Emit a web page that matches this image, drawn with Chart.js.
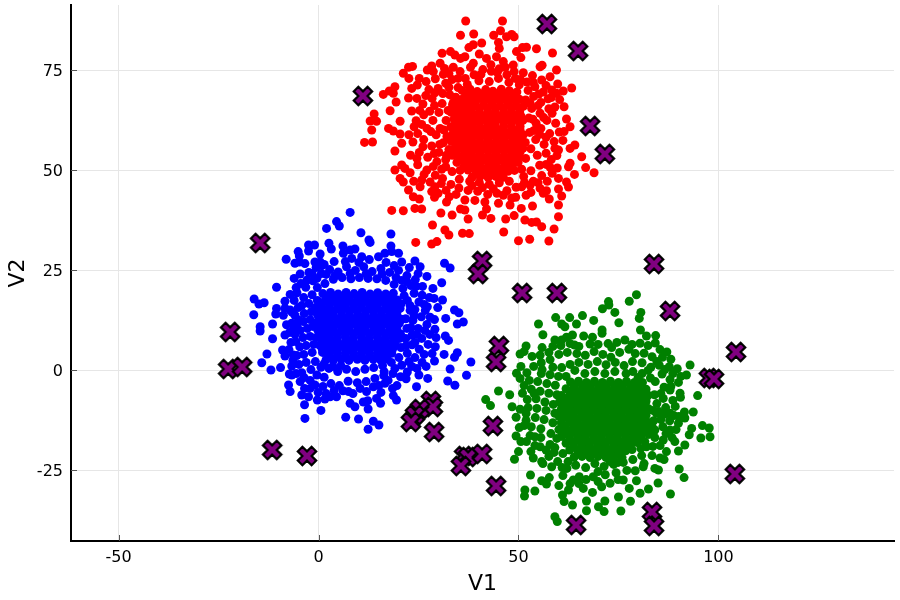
<!DOCTYPE html>
<html><head><meta charset="utf-8">
<script src="https://cdn.jsdelivr.net/npm/chart.js@4"></script>
<style>html,body{margin:0;padding:0;background:#fff}canvas{display:block}</style>
</head><body><canvas id="c" width="900" height="600"></canvas>
<script>
const xTicks=[-50,0,50,100];
const yTicks=[-25,0,25,50,75];
const xTitle="V1", yTitle="V2";
const redEdge=[[36.8,87.25],[46,87.25],[45.5,84.8],[35.5,83.7],[38.8,84],[43.8,83.7],[47,83.3],[48.3,83.9],[48.9,83.3],[40.8,81.75],[38.7,81.3],[37.6,80.6],[45,81.9],[45.2,80.4],[51,80.6],[52,80.7],[54.5,80.3],[58.5,79.25],[49.5,79.6],[50.6,78.1],[40.2,79],[30.9,79.2],[33,79.6],[34.1,78.75],[36.6,78.3],[35.5,77.9],[42,77.9],[44.5,78.3],[46.2,77.1],[48.7,76.25],[38.7,76.7],[38,75.7],[30.4,76.7],[28.3,76],[27.2,75],[23.5,75.9],[22.5,75.7],[21.2,74.2],[22.6,72.9],[33.7,75.7],[35.4,74.6],[55.4,75.8],[55.9,76.2],[59.5,75],[51.2,74.3],[53.5,73.6],[57.9,73.3],[55.8,72.5],[59.8,71.5],[63.3,70.5],[61.2,69.75],[59.5,69.2],[58.3,70],[19.1,70.8],[17.7,69.75],[16.2,68.9],[18.7,69.2],[19.4,67],[23.3,70.4],[24.7,71.25],[22.5,68],[59.1,65.75],[61.4,65.8],[62,62.75],[62.9,60.8],[61.4,59.6],[13.9,64],[12.9,62.25],[14.5,62.2],[13.3,60],[11.5,56.9],[13.5,57],[17.9,64.8],[20.4,62.2],[17.5,60.4],[18.7,59.75],[20.4,59],[19.1,54.75],[20.8,56.7],[23.3,64.75],[64.1,56.25],[62.9,55.4],[65.8,53.3],[66.8,50.6],[68.9,49.3],[64,48.9],[62.9,51.7],[62.5,50.8],[60,55],[59.6,53.6],[57.9,50.7],[59.7,50.5],[60,47.9],[62,47],[62.5,45.75],[60,45.25],[60.8,43.5],[57.7,42.75],[60,41.25],[60,38.3],[58.9,35.25],[57.6,32.25],[55.8,35.8],[54.5,37],[53.3,36.9],[51.6,37.5],[53.5,41],[50.7,40.4],[48.9,38.6],[46.8,37.75],[43.1,37.9],[41,38.75],[42,40.25],[37.4,37.75],[33.4,38.75],[30.6,39.25],[36.6,40],[35.5,40.25],[25.8,40.25],[24.1,40.4],[21.2,39.8],[18.3,39.9],[28.5,36.25],[31.6,35],[32.6,33.75],[36,34.2],[37.7,34.1],[46.3,34.5],[50,32.3],[52.8,32.7],[24.3,31.9],[28.3,31.5],[29.6,32.1],[19.1,50],[20.8,51.25],[21.6,50.4],[20.4,47.9],[21.2,47],[22.5,45],[23.7,43.3],[25.2,42.75],[25.4,45.8],[25.8,47.5],[27.9,47],[29.1,45.8],[28.3,44.6],[29,43.2],[32.7,43.3],[32,42],[36.6,42.5],[39.1,42.4],[41.6,42],[45,41.7],[47.9,41.25],[48.3,43],[50.8,45.8],[55.4,45.4],[57,44.8],[56.2,44.2]];
const redMid=[[24.4,62.3],[26.1,66.5],[27.6,70.1],[29.2,72.8],[31.2,73.9],[24.8,59.1],[26.3,63.8],[28.4,67.9],[29.9,70.4],[31.8,71.7],[33.4,72.6],[36.7,72.9],[38.9,73.8],[41.1,75.1],[43.2,74.7],[45.2,75.3],[47.1,73.8],[49.2,72.9],[52.1,72],[54.1,70.8],[56.2,69.5],[57.4,67.8],[55.6,66.9],[53.8,68.4],[58.4,64.2],[57.1,62.4],[59.3,61.7],[60.2,59.5],[57.8,59.1],[55.6,60.4],[58.9,57.1],[56.4,56.4],[54.3,57.6],[56.9,54.2],[54.7,53.7],[58.2,52.6],[55.3,51.2],[53.1,49.8],[55.8,48.6],[53.7,47.2],[51.5,46.9],[49.4,45.7],[47.1,44.8],[44.6,44.2],[42.3,43.9],[39.8,44.7],[37.4,44.9],[35.1,45.5],[33.1,46.4],[31,47.9],[29.2,48.7],[27.1,50],[24.8,51.3],[23,53.7],[25.2,54.4],[27.3,53.2],[29.6,52.1],[30.8,50.2],[23.6,57],[26.3,57.6],[28.3,56],[30.1,54.4],[31.8,52.6],[27.1,60.4],[29.4,58.8],[31.2,56.8],[28.6,62.4],[30.4,60.4],[32.1,58.4],[30.1,64.4],[31.9,62.4],[30.9,66.6],[32.4,64.9],[32.8,68.8],[33.7,66.9],[34.9,70.6],[37.2,71.4],[40.1,72.3],[42.7,72.1],[45,72.9],[47.6,71.9],[50.2,71.3],[52.4,69.9],[51.8,67.5],[53.3,65.4],[55.4,64.2],[52.6,63],[54.4,61.7],[52.8,59.4],[51.7,56.9],[53.1,55.3],[51.8,52.9],[50.8,50.2],[51.3,48.4],[47.7,47.2],[45.2,46.8],[42.7,46.4],[40.2,46.9],[37.8,47.2],[35.2,47.7],[33.4,49.6],[31.8,50.8]];
const redCore=[[35.9,69.9],[37.9,70.2],[39.7,69.6],[41.8,70.1],[43.6,69.7],[45.7,70.2],[47.7,69.8],[49.6,69.5],[34.3,68.2],[36.2,67.9],[38.3,68.4],[40.4,68.1],[42.4,68.3],[44.4,67.9],[46.4,68.2],[48.6,68.1],[50.2,67.7],[33.5,66.3],[35.3,66.5],[37.1,66.1],[39.2,66.6],[41.3,66.2],[43.3,66.4],[45.3,66.1],[47.3,66.5],[49.3,66.1],[51.2,65.9],[33.2,64.4],[34.9,64.8],[36.3,64.3],[38.2,64.7],[40.2,64.4],[42.3,64.7],[44.2,64.3],[46.3,64.6],[48.3,64.3],[50.3,64.5],[33.9,62.7],[35.6,62.5],[37.4,62.9],[39.3,62.6],[41.3,62.8],[43.2,62.5],[45.2,62.9],[47.3,62.6],[49.4,62.8],[51.1,62.4],[33.1,60.8],[34.8,60.9],[36.5,60.7],[38.4,61],[40.4,60.7],[42.4,61],[44.3,60.7],[46.3,61],[48.3,60.7],[50.4,60.9],[33.6,59.1],[35.5,58.9],[37.3,59.2],[39.3,58.9],[41.4,59.2],[43.4,58.9],[45.3,59.2],[47.3,58.9],[49.4,59.2],[51.2,58.8],[33.2,57.2],[34.7,57.4],[36.4,57.1],[38.3,57.4],[40.3,57.1],[42.4,57.4],[44.4,57.1],[46.4,57.4],[48.4,57.1],[50.2,57.3],[34,55.4],[35.7,55.6],[37.4,55.2],[39.3,55.6],[41.3,55.3],[43.3,55.6],[45.3,55.3],[47.3,55.6],[49.3,55.3],[51.1,55.4],[33.4,53.7],[35.1,53.4],[36.5,53.8],[38.4,53.5],[40.4,53.8],[42.4,53.5],[44.4,53.8],[46.4,53.5],[48.4,53.8],[50.1,53.4],[34.6,51.9],[36.6,51.6],[38.5,51.9],[40.3,51.6],[42.4,51.9],[44.3,51.6],[46.4,51.9],[48.3,51.6],[49.9,51.9],[35.4,49.9],[37.4,50],[39.4,49.7],[41.4,50],[43.4,49.7],[45.4,50],[47.4,49.7],[49,49.9],[38.4,48.2],[40.4,48.4],[42.4,48.1],[44.3,48.4],[46.2,48.2]];
const redExtra=[[25.2,72.9],[26.9,72.1],[28.7,74.6],[31.5,75.4],[32.6,74.1],[34.9,72.9],[40.6,73.9],[43.1,76.3],[44.7,74.4],[46.7,75.7],[48.9,74.6],[50.5,72.6],[53.7,71.9],[55.1,69],[56.9,71.1],[58.2,68.1],[60.3,67.6],[26.8,68.6],[24.6,67.9],[25.3,64.9],[23.9,60.8],[22.6,58.8],[25.8,61.4],[27.8,64.7],[29,66.1],[28.1,59.6],[26.1,55.8],[24.6,52.9],[22.9,49.3],[23.8,47.2],[26.4,48.9],[28.7,50.9],[30.7,46.6],[29.9,44.2],[31.9,44.9],[34.4,43.9],[38.4,46.1],[41,45.6],[43.7,45.3],[46.2,43.7],[49.3,43.2],[51.9,43.7],[53.1,44.4],[52.9,46.2],[54.9,46.8],[57.2,47.2],[58.4,49.2],[56.9,51.4],[59.1,55.4],[61.1,57.4],[56.9,58.2],[55.3,58.9],[53.9,59.9],[53.6,62.7],[56.3,63.1],[57.6,65.3],[54.9,66.1],[52.9,66.7],[31.1,69.1],[32.6,70.7],[29.1,69.3],[31.4,60],[30.3,56.4],[32.6,55.1],[32,53.7],[28.9,54.1]];
const redFill=[[36.9,69],[38.9,69.2],[40.9,69],[42.9,69.2],[44.9,69],[46.9,69.1],[48.9,69],[35.3,67.2],[37.3,67.3],[39.3,67.2],[41.4,67.3],[43.4,67.2],[45.4,67.3],[47.4,67.2],[49.4,67.2],[34.3,65.4],[36.3,65.4],[38.2,65.5],[40.2,65.4],[42.3,65.5],[44.3,65.4],[46.3,65.5],[48.3,65.4],[50.3,65.4],[34.8,63.6],[36.7,63.6],[38.7,63.7],[40.7,63.6],[42.7,63.7],[44.7,63.6],[46.8,63.7],[48.8,63.6],[50.6,63.5],[34.5,61.8],[36.4,61.8],[38.4,61.9],[40.3,61.8],[42.3,61.9],[44.2,61.8],[46.3,61.9],[48.3,61.8],[50.3,61.8],[34.6,60],[36.4,60],[38.4,60],[40.4,60],[42.4,60],[44.4,60],[46.3,60],[48.4,60],[50.4,60],[34.5,58.1],[36.4,58.1],[38.3,58.2],[40.4,58.1],[42.4,58.2],[44.4,58.1],[46.3,58.2],[48.4,58.1],[50.3,58.1],[35,56.4],[36.9,56.3],[38.8,56.4],[40.8,56.3],[42.8,56.4],[44.8,56.3],[46.8,56.4],[48.8,56.3],[50.6,56.3],[34.5,54.6],[36.5,54.6],[38.4,54.6],[40.4,54.6],[42.4,54.6],[44.4,54.6],[46.4,54.6],[48.4,54.6],[50.4,54.5],[35.6,52.7],[37.6,52.7],[39.4,52.7],[41.4,52.7],[43.4,52.7],[45.4,52.7],[47.4,52.7],[49.2,52.7],[36.4,50.8],[38.4,50.8],[40.4,50.8],[42.4,50.8],[44.4,50.8],[46.4,50.8],[48.4,50.8],[39.4,49],[41.4,49],[43.4,49],[45.4,49]];
const blueEdge=[[7.9,39.4],[2,35.4],[4.5,37.1],[5.2,36],[10.6,34.3],[18.1,34],[12.6,32.5],[12.9,31.9],[-2.5,31.25],[-1,31.25],[2.6,31.7],[3.2,30.25],[6.1,31],[18.1,31],[-2.5,29.75],[-5.1,29.6],[-4.8,28.5],[.4,29],[-8.1,27.7],[-5.9,26.7],[-3.4,26.6],[-4.8,27],[-.9,27],[.4,27],[6.2,29.2],[7.9,30],[9.1,30.25],[8.3,27.9],[10.8,28.3],[20,29.2],[18.3,29.6],[16.6,29.2],[15,28.3],[20.8,27],[24.1,27.25],[25.4,25.8],[31.5,26.7],[32.9,25.5],[30.8,21.8],[31,17.5],[34,15],[35.1,14.3],[29.8,15.6],[27.2,15.8],[31.8,12.9],[36.2,12],[34.7,11.5],[29.1,10.2],[31.7,8.5],[32.5,7.4],[29.2,5.8],[34.7,4.3],[34,3.2],[31.4,3.9],[29,2.25],[38.1,2],[32.9,.25],[37,-1.3],[27.3,-2.1],[25.1,-1.25],[32.3,-2.75],[34.1,-3.8],[24.5,-4.2],[22.2,-.5],[20.5,-1.7],[-10.5,20.7],[-5.4,19.3],[-2.9,22.5],[-4.6,24],[-6.1,22.9],[-16.1,17.75],[-14.9,16.5],[-13.6,16.8],[-8.4,17.2],[-10.5,15.4],[-10.7,14],[-16.2,13.8],[-8.4,15.4],[-7.1,15],[-5.9,13.7],[-5,12.5],[-8.8,13.7],[-6.7,11.7],[-8,11.3],[-6.3,10],[-8.4,8.75],[-11.5,11.5],[-14.6,10.8],[-14.6,9.75],[-11.5,7.8],[-12.9,4],[-14.2,1.8],[-11.9,0],[-9.5,.6],[-9,5],[-8.4,3.5],[-6.3,3.75],[-6.7,1],[-7.3,-1],[-6.7,-1.25],[-7.5,-3.75],[-7.1,-5.4],[-4.2,-6.25],[-3.5,-4.6],[-3.5,-8.7],[-2.5,-6.7],[-.3,-7.5],[1.6,-7.25],[.6,-10.1],[-3.4,-12.1],[6.8,-11.8],[10,-12.25],[13.7,-12.8],[15.1,-13.75],[12.4,-14.8],[7.9,-8.3],[9.1,-9.2],[12.4,-9.75],[11.2,-8],[12.3,-7.7],[14.5,-7.1],[15.5,-8.3],[15.6,-5.6],[18.7,-6.4],[19.5,-7.5],[18.5,-4.6],[16.6,-3.3],[13.7,-4.2],[12,-5.4],[7.5,-5.4],[4.5,-6.7],[2.9,-6.7],[-.9,-3.75],[-.4,-1.25]];
const blueMid=[[-3.2,20.7],[-1.4,22.3],[.7,24.1],[2.8,25.1],[4.9,24.5],[7,25.8],[9.2,24.9],[11.3,25.8],[13.4,24.6],[15.6,25.4],[17.8,24.4],[20,24.9],[22.1,23.6],[24.2,22.6],[26,20.9],[23.1,21.1],[20.8,22.4],[25.9,18.7],[27.7,18.1],[23.9,19.2],[26.4,16.4],[24.1,15.1],[27.9,13.2],[25.7,13.3],[23.6,12.4],[27.1,11.4],[24.9,10.4],[27.8,8.9],[25.8,7.9],[23.4,8.7],[27.4,6.4],[25.2,5.2],[23.4,6.3],[26.4,3.9],[24.1,3.1],[22.2,4.2],[25.9,1.9],[23.3,.9],[20.8,1.2],[18.6,-.9],[16.3,-1.4],[14.1,-2.1],[11.9,-2.9],[9.7,-3.2],[7.4,-2.8],[5.2,-3.9],[3.1,-3.4],[1.1,-4.1],[-2.1,-2.6],[1.4,-1.8],[-4.2,-.7],[-1.9,.1],[-4.9,1.4],[-3.1,1.9],[-.8,2.1],[-5.4,3.6],[-3.7,3.9],[-1.6,4.4],[-4.7,5.8],[-3.1,6.1],[-1.2,6.4],[-5.7,7.1],[-3.9,8.1],[-2.1,8.4],[-4.6,9.9],[-2.8,10.4],[-1.4,10.9],[-3.8,12.1],[-2.1,12.6],[-3.6,14.1],[-1.8,14.6],[-4.2,16.1],[-2.4,16.6],[-3.7,18.1],[-1.6,18.8],[-.3,20.6],[1.6,21.6],[3.7,22.7],[5.9,23.1],[8.1,22.8],[10.2,23.1],[12.4,22.9],[14.6,22.8],[16.8,22.4],[18.9,21.4],[21.1,20.4],[22.2,17.4],[22.9,14.9],[21.8,12.8],[22.1,10.4],[21.8,7.9],[20.6,5.6],[20.1,3.1],[18.2,1.9],[16,1.1],[13.8,.6],[11.6,.2],[9.3,-.4],[7,.2],[4.8,-.4],[2.6,.4],[.6,.7]];
const blueCore=[[1.1,19.1],[3,19.4],[4.9,19],[6.9,19.4],[8.9,19.1],[10.9,19.4],[12.9,19],[14.8,19.3],[16.8,19],[18.7,19.2],[-.3,17.4],[1.6,17.3],[3.7,17.6],[5.6,17.2],[7.7,17.5],[9.6,17.2],[11.6,17.6],[13.6,17.2],[15.7,17.5],[17.6,17.2],[19.7,17.5],[-.7,15.6],[.9,15.4],[2.7,15.7],[4.7,15.4],[6.6,15.7],[8.6,15.4],[10.7,15.7],[12.7,15.4],[14.6,15.7],[16.7,15.4],[18.6,15.7],[20.4,15.4],[-.2,13.7],[1.7,13.5],[3.6,13.8],[5.7,13.5],[7.7,13.8],[9.7,13.5],[11.6,13.8],[13.7,13.5],[15.7,13.8],[17.6,13.5],[19.6,13.8],[-.6,11.8],[1,11.7],[2.7,12],[4.6,11.7],[6.7,12],[8.6,11.7],[10.7,12],[12.6,11.7],[14.7,12],[16.6,11.7],[18.7,12],[20.2,11.7],[-.2,10],[1.8,9.8],[3.7,10.1],[5.7,9.8],[7.6,10.1],[9.7,9.8],[11.6,10.1],[13.7,9.8],[15.6,10.1],[17.7,9.8],[19.6,10.1],[-.5,8.1],[1,7.9],[2.7,8.2],[4.6,7.9],[6.7,8.2],[8.6,7.9],[10.7,8.2],[12.6,7.9],[14.7,8.2],[16.6,7.9],[18.6,8.2],[20.3,7.9],[.3,6.2],[1.9,6],[3.7,6.3],[5.7,6],[7.6,6.3],[9.7,6],[11.6,6.3],[13.7,6],[15.6,6.3],[17.7,6],[19.2,6.3],[1,4.4],[2.7,4.2],[4.6,4.5],[6.7,4.2],[8.6,4.5],[10.7,4.2],[12.6,4.5],[14.7,4.2],[16.6,4.5],[18.3,4.2],[1.9,2.6],[3.7,2.4],[5.7,2.7],[7.6,2.4],[9.7,2.7],[11.6,2.4],[13.7,2.7],[15.6,2.4],[17.2,2.7]];
const blueExtra=[[.9,26.1],[3.9,27.1],[6.7,27.1],[10.1,26.9],[12.7,27.6],[16.9,26.9],[18.9,26.1],[22.7,25.6],[24.9,24.1],[27.1,23.4],[28.6,20.4],[28.9,17.9],[25.1,17],[26.7,14.9],[29,12.6],[26.6,9.9],[29.4,8.1],[24.1,6.9],[28.4,4.1],[26.9,.9],[24.6,.4],[21.9,-2.2],[19.6,-3.9],[17.4,-2.6],[15.1,-3.9],[10.4,-4.6],[8.6,-5.9],[6.1,-5.2],[3.9,-5.1],[1.9,-5.9],[-.1,-5.6],[-2.1,-4.6],[-4.6,-2.9],[-5.6,-.9],[-3.6,-1.9],[-6.4,2.4],[-7.4,5.1],[-6.9,6.9],[-5.9,8.9],[-7.2,9.4],[-5.4,11.1],[-6.6,14.4],[-5.1,15.6],[-6.1,17.4],[-7.1,18.9],[-5.6,20.6],[-4.4,21.6],[-2.4,24.4],[-.6,25.6],[1.4,26.4],[-1.6,24.1],[-.4,22.9],[1.9,23.9],[4.1,23.6],[7.9,24.1],[11.9,24.1],[15.9,24],[19.4,23.1],[22.1,22.1],[24.4,20.9],[21.4,18.6],[22.9,16.1],[23.9,13.6],[23.1,10.6],[24.6,8.9],[21.9,6.1],[22.6,2.1],[19.1,.4],[16.4,-.4],[5.6,1.1],[3.6,.9],[1.4,1.6]];
const blueFill=[[2,18.3],[4,18.4],[5.9,18.3],[7.9,18.4],[9.9,18.3],[11.9,18.4],[13.9,18.3],[15.9,18.3],[17.9,18.3],[.7,16.5],[2.7,16.5],[4.7,16.4],[6.7,16.5],[8.7,16.4],[10.7,16.5],[12.7,16.4],[14.7,16.5],[16.7,16.4],[18.7,16.4],[20.6,16.5],[.1,14.6],[1.9,14.6],[3.8,14.7],[5.7,14.6],[7.7,14.7],[9.7,14.6],[11.8,14.7],[13.7,14.6],[15.7,14.7],[17.7,14.6],[19.6,14.6],[.7,12.7],[2.7,12.7],[4.7,12.7],[6.7,12.7],[8.7,12.7],[10.7,12.7],[12.7,12.7],[14.7,12.7],[16.7,12.7],[18.7,12.7],[20.7,12.7],[.2,10.9],[1.9,10.9],[3.8,10.9],[5.7,10.9],[7.7,10.9],[9.7,10.9],[11.7,10.9],[13.7,10.9],[15.7,10.9],[17.7,10.9],[19.6,10.9],[.8,9],[2.8,9],[4.7,9],[6.7,9],[8.7,9],[10.7,9],[12.7,9],[14.7,9],[16.7,9],[18.7,9],[20.5,9],[1,7.1],[2.9,7.1],[4.7,7.1],[6.7,7.1],[8.6,7.1],[10.7,7.1],[12.7,7.1],[14.7,7.1],[16.6,7.1],[18.6,7.1],[.9,5.3],[2.8,5.2],[4.7,5.3],[6.7,5.2],[8.7,5.3],[10.7,5.2],[12.7,5.3],[14.7,5.2],[16.7,5.3],[18.5,5.2],[2.8,3.4],[4.7,3.4],[6.7,3.4],[8.7,3.4],[10.7,3.4],[12.7,3.4],[14.7,3.4],[16.6,3.4]];
const greenEdge=[[79.5,18.8],[77.7,17.2],[72.5,17.1],[72.6,16.25],[71,15.3],[74.1,14.4],[80.6,14.4],[80.2,12.9],[75.1,11.8],[66,13.6],[62.8,13.1],[59.3,13.1],[68.8,12.4],[64.5,11.5],[55,11.5],[60.8,11.5],[61.6,10.8],[70.9,10],[70.9,9.2],[80.5,10],[82,8.5],[84.3,8.6],[84.2,6.75],[56.1,8.8],[63.5,8.75],[66.3,8.5],[68.5,8.2],[59.1,7.5],[60.8,7.5],[62,8.2],[76.6,7.5],[80.4,6.7],[73.3,5.6],[64,6.25],[67.9,6.5],[51.9,6],[51.4,4.6],[50.4,4],[57.6,4.4],[55.4,3.7],[87.1,4.5],[86,3.2],[88.1,2.7],[87.7,.8],[89.7,.3],[92.9,1.25],[92,-1.25],[94.8,-6.4],[90.4,-5.8],[90.5,-6.8],[87.9,-5],[93.7,-10.5],[91.5,-10.5],[91.6,-12],[96,-13.9],[97.7,-14.5],[97.9,-16.7],[95.6,-17],[93.3,-14.6],[92.7,-16.2],[91.6,-18.75],[90,-20.25],[89.1,-17.9],[90.2,-24.75],[91.4,-26.9],[88,-31],[84.9,-28.25],[82.5,-29.75],[80.4,-30.8],[79.5,-27.7],[77.7,-29.6],[78,-32.8],[75,-31.75],[75.6,-35.25],[71.6,-32.75],[70,-34.2],[71.4,-35.4],[67,-32.75],[67,-35.2],[63.5,-33.75],[61.4,-32.9],[61,-31.25],[59.1,-36.7],[59.7,-37.9],[51.6,-30],[51.5,-31.5],[54.1,-30.25],[53,-26.25],[55.8,-27.7],[57.7,-26.9],[57,-28.5],[49,-22.3],[50,-20.4],[49.4,-16.5],[50.6,-17.9],[50.2,-14.4],[49.4,-11.8],[48.4,-9.2],[50.4,-9.8],[41.8,-7.4],[43,-8.9],[45,-5.25],[47.8,-6.2],[51,-5.8],[49.5,-.8],[50.4,-2.1],[55.8,-22.9],[58.3,-24.2],[53.7,-22],[52,-17.9],[54.1,-16.7],[56.9,-20],[62.5,-30],[66.2,-29.6],[68.5,-30.6],[70.8,-29.2],[63.7,-27.5],[68.7,-26.7],[76.2,-27.5],[72.9,-28.3],[85,-25],[84.1,-24.6],[81.2,-24.2],[85.4,-22],[82,-19.2],[87,-20.4],[86.2,-17.5],[84.1,-15],[87.9,-15],[90,-13.3],[87.9,-10.8],[84.5,-10.8]];
const greenMid=[[52.1,-.7],[53.8,.9],[55.7,1.8],[57.9,2.6],[60.1,3.9],[62.2,4.4],[64.6,4.1],[66.7,3.7],[68.9,4.6],[71.1,3.9],[73.1,3.2],[75.3,4.4],[77.6,5.2],[79.2,4.1],[81.4,4.2],[83.4,3.3],[85.2,1.2],[83.1,.7],[80.9,1.8],[78.5,2.1],[85.9,-1],[87.9,-2.4],[90,-3.1],[84.2,-2.9],[86.4,-4.3],[88.6,-7.6],[86.2,-7.1],[84,-6.2],[89.2,-9.1],[86.8,-9.4],[84.6,-8.4],[90.1,-11.6],[87.8,-12.7],[85.6,-12.4],[83.8,-12.7],[86.1,-14.2],[84.1,-16.9],[83.6,-19.1],[80.8,-21.4],[78.6,-22.4],[76.2,-23.1],[73.8,-23.6],[71.4,-24.1],[69.1,-23.4],[66.8,-24.4],[64.3,-23.8],[62.1,-24.6],[59.8,-22.9],[61.1,-26.4],[65.2,-26.7],[71.7,-26.2],[74.4,-25.7],[79.2,-25.2],[57.6,-21.6],[55.4,-19.2],[57.9,-18.6],[53.2,-14.2],[55.6,-14.7],[58.1,-15.9],[51.9,-12.6],[54.2,-11.9],[56.4,-12.4],[58.6,-13.2],[52.4,-9.4],[54.6,-9.6],[56.9,-10.1],[59.1,-10.8],[52.2,-7.4],[54.4,-7.2],[56.6,-8],[58.7,-8.6],[53.2,-4.8],[55.4,-5.3],[57.6,-5.8],[59.6,-6.2],[52.7,-2.6],[54.8,-2.9],[57.1,-3.4],[59.2,-3.8],[55.7,-.9],[57.9,-1.2],[60,-1.6],[58.6,.7],[60.8,.6],[62.9,1.4],[65.1,1.9],[67.4,1.4],[69.7,2.1],[71.9,1.3],[74.2,1.9],[76.4,1.1],[78.6,-.4],[80.9,-.9],[83,-2]];
const greenCore=[[63,-3],[65,-2.8],[67,-3.1],[69,-2.8],[71,-3.1],[73,-2.8],[75,-3.1],[77,-2.8],[79,-3.1],[81,-3.1],[61.9,-4.7],[63.9,-4.5],[65.9,-4.8],[67.9,-4.5],[69.9,-4.8],[71.9,-4.5],[73.9,-4.8],[75.9,-4.5],[77.9,-4.8],[79.9,-4.5],[81.9,-4.8],[60.8,-6.4],[62.9,-6.2],[64.9,-6.5],[66.9,-6.2],[68.9,-6.5],[70.9,-6.2],[72.9,-6.5],[74.9,-6.2],[76.9,-6.5],[78.9,-6.2],[80.9,-6.5],[82.4,-6.3],[60.2,-8.1],[61.9,-7.9],[63.9,-8.2],[65.9,-7.9],[67.9,-8.2],[69.9,-7.9],[71.9,-8.2],[73.9,-7.9],[75.9,-8.2],[77.9,-7.9],[79.9,-8.2],[81.9,-7.9],[60.7,-9.8],[62.8,-9.6],[64.8,-9.9],[66.8,-9.6],[68.8,-9.9],[70.8,-9.6],[72.8,-9.9],[74.8,-9.6],[76.8,-9.9],[78.8,-9.6],[80.8,-9.9],[82.4,-9.6],[60.1,-11.5],[61.9,-11.3],[63.9,-11.6],[65.9,-11.3],[67.9,-11.6],[69.9,-11.3],[71.9,-11.6],[73.9,-11.3],[75.9,-11.6],[77.9,-11.3],[79.9,-11.6],[81.9,-11.3],[60.7,-13.2],[62.8,-13],[64.8,-13.3],[66.8,-13],[68.8,-13.3],[70.8,-13],[72.8,-13.3],[74.8,-13],[76.8,-13.3],[78.8,-13],[80.8,-13.3],[82.2,-13],[60.1,-14.9],[61.9,-14.7],[63.9,-15],[65.9,-14.7],[67.9,-15],[69.9,-14.7],[71.9,-15],[73.9,-14.7],[75.9,-15],[77.9,-14.7],[79.9,-15],[81.6,-14.7],[60.9,-16.6],[62.8,-16.4],[64.8,-16.7],[66.8,-16.4],[68.8,-16.7],[70.8,-16.4],[72.8,-16.7],[74.8,-16.4],[76.8,-16.7],[78.8,-16.4],[80.6,-16.7],[61.9,-18.3],[63.9,-18.1],[65.9,-18.4],[67.9,-18.1],[69.9,-18.4],[71.9,-18.1],[73.9,-18.4],[75.9,-18.1],[77.9,-18.4],[79.6,-18.1],[62.8,-20],[64.8,-20.2],[66.8,-19.9],[68.8,-20.2],[70.8,-19.9],[72.8,-20.2],[74.8,-19.9],[76.8,-20.2],[78.4,-19.9],[63.9,-21.8],[65.9,-21.6],[67.9,-21.9],[69.9,-21.6],[71.9,-21.9],[73.9,-21.6],[75.9,-21.9]];
const greenExtra=[[53.4,3.4],[55.9,5.6],[58.6,5.9],[60.6,6.1],[62.9,6.6],[65.1,5.9],[69.9,6.4],[72.4,6.6],[74.6,6.9],[78.4,6.4],[82.4,6.1],[85.4,5.1],[84.6,2.1],[86.6,.1],[88.6,-.9],[90.6,-1.6],[82.4,-.1],[79.9,-1.9],[76.9,-.9],[74.1,-.4],[71.6,-.9],[69.1,-.4],[66.6,-.9],[64.1,-.1],[61.9,-1.6],[85.6,-5.9],[88.1,-4.1],[85.1,-10.4],[83.6,-10.1],[86.4,-11.1],[88.9,-11.4],[89.4,-14.9],[88.4,-16.9],[86.9,-15.9],[85.4,-18.9],[86.4,-22.4],[83.4,-21.4],[81.4,-23.4],[77.1,-25.1],[74.9,-27.4],[69.9,-27.9],[66.9,-27.4],[65.1,-28.4],[62.9,-28.4],[60.1,-28.9],[60.9,-24.4],[58.9,-20.6],[56.1,-23.4],[54.1,-18.9],[53.1,-20.4],[55.6,-16.9],[52.9,-16.4],[51.4,-13.9],[51.9,-10.9],[53.9,-5.9],[51.4,-3.9],[50.6,.9],[55.9,.1],[59.1,-19.4],[59.6,-17.1],[61.1,-20.9],[62.4,-22.9],[80.6,-19.6],[81.6,-17.9],[83.1,-15.1],[83.4,-14.1],[82.6,-16.1],[72.9,-22.9],[74.9,-23.1],[69.9,-25.4]];
const greenFill=[[64,-3.8],[66,-3.9],[68,-3.8],[70,-3.9],[72,-3.8],[74,-3.9],[76,-3.8],[78,-3.9],[80,-3.8],[62.9,-5.5],[64.9,-5.6],[66.9,-5.5],[68.9,-5.6],[70.9,-5.5],[72.9,-5.6],[74.9,-5.5],[76.9,-5.6],[78.9,-5.5],[80.9,-5.6],[61.9,-7.2],[63.9,-7.3],[65.9,-7.2],[67.9,-7.3],[69.9,-7.2],[71.9,-7.3],[73.9,-7.2],[75.9,-7.3],[77.9,-7.2],[79.9,-7.3],[81.9,-7.2],[61.2,-8.9],[62.9,-8.9],[64.9,-9],[66.9,-8.9],[68.9,-9],[70.9,-8.9],[72.9,-9],[74.9,-8.9],[76.9,-9],[78.9,-8.9],[80.9,-9],[61.8,-10.6],[63.8,-10.7],[65.8,-10.6],[67.8,-10.7],[69.8,-10.6],[71.8,-10.7],[73.8,-10.6],[75.8,-10.7],[77.8,-10.6],[79.8,-10.7],[81.6,-10.6],[60.9,-12.3],[62.9,-12.4],[64.9,-12.3],[66.9,-12.4],[68.9,-12.3],[70.9,-12.4],[72.9,-12.3],[74.9,-12.4],[76.9,-12.3],[78.9,-12.4],[80.9,-12.3],[61.4,-14],[63.8,-14.1],[65.8,-14],[67.8,-14.1],[69.8,-14],[71.8,-14.1],[73.8,-14],[75.8,-14.1],[77.8,-14],[79.8,-14.1],[81.4,-14],[60.9,-15.7],[62.9,-15.8],[64.9,-15.7],[66.9,-15.8],[68.9,-15.7],[70.9,-15.8],[72.9,-15.7],[74.9,-15.8],[76.9,-15.7],[78.9,-15.8],[80.7,-15.7],[62.9,-17.4],[64.9,-17.5],[66.9,-17.4],[68.9,-17.5],[70.9,-17.4],[72.9,-17.5],[74.9,-17.4],[76.9,-17.5],[78.9,-17.4],[63.8,-19.1],[65.8,-19.2],[67.8,-19.1],[69.8,-19.2],[71.8,-19.1],[73.8,-19.2],[75.8,-19.1],[77.6,-19.2],[65,-20.9],[67,-20.9],[69,-20.9],[71,-20.9],[73,-20.9],[75,-20.9]];
const outliers=[[57.1,86.5],[64.9,79.75],[11.1,68.5],[67.9,61],[71.6,54],[-14.6,31.75],[40.9,27.25],[39.9,24],[83.9,26.5],[50.9,19.25],[59.6,19.25],[87.9,14.75],[-22.1,9.5],[45.1,6],[44.4,2],[104.4,4.5],[97.6,-2],[98.9,-2.25],[-22.6,.25],[-19.1,.75],[28.1,-7.75],[28.6,-9.25],[25.4,-9.75],[24.1,-11.25],[23.1,-13],[28.9,-15.5],[43.6,-14],[-11.6,-20],[-2.9,-21.5],[36.4,-21.5],[37.4,-21.75],[35.6,-24],[40.9,-21],[44.4,-29],[104.1,-26],[83.4,-35.5],[83.9,-39],[64.4,-38.75]];

function toPts(a){return a.map(p=>({x:p[0],y:p[1]}));}
function xMarker(){
  const s=26,c=document.createElement('canvas');c.width=s;c.height=s;
  const g=c.getContext('2d');g.translate(s/2,s/2);
  const e=9.2,k=4.6,n=4.6;
  const pts=[[0,-n],[e-k,-e],[e,-e+k],[n,0],[e,e-k],[e-k,e],[0,n],[-e+k,e],[-e,e-k],[-n,0],[-e,-e+k],[-e+k,-e]];
  g.beginPath();pts.forEach((p,i)=>i?g.lineTo(p[0],p[1]):g.moveTo(p[0],p[1]));g.closePath();
  g.fillStyle='#800080';g.fill();g.lineWidth=2.2;g.lineJoin='miter';g.strokeStyle='#000';g.stroke();
  return c;
}
function ds(data,color){return {data:toPts(data),pointRadius:4.5,pointHoverRadius:4.5,borderWidth:0,pointBorderWidth:0,backgroundColor:color,pointBackgroundColor:color,showLine:false};}
const tickMarks={id:'tickMarks',afterDraw(ch){
  const g=ch.ctx,x=ch.scales.x,y=ch.scales.y,a=ch.chartArea;
  g.save();g.strokeStyle='#555';g.lineWidth=1;g.beginPath();
  xTicks.forEach(v=>{const p=Math.round(x.getPixelForValue(v))+.5;g.moveTo(p,a.bottom);g.lineTo(p,a.bottom-6);});
  yTicks.forEach(v=>{const p=Math.round(y.getPixelForValue(v))+.5;g.moveTo(a.left,p);g.lineTo(a.left+6,p);});
  g.stroke();g.restore();
}};
const font='"DejaVu Sans"';
new Chart(document.getElementById('c'),{
  type:'scatter',
  data:{datasets:[
    {...ds(outliers,'#800080'),pointStyle:xMarker(),order:0},
    {...ds(redEdge.concat(redMid,redCore,redExtra,redFill),'#ff0000'),order:1},
    {...ds(blueEdge.concat(blueMid,blueCore,blueExtra,blueFill),'#0000ff'),order:2},
    {...ds(greenEdge.concat(greenMid,greenCore,greenExtra,greenFill),'#008000'),order:3}
  ]},
  options:{responsive:false,animation:false,
    layout:{padding:{top:5,right:6,left:0,bottom:0}},
    plugins:{legend:{display:false},tooltip:{enabled:false}},
    scales:{
      x:{type:'linear',min:-61.9,max:143.9,
        afterBuildTicks:s=>{s.ticks=xTicks.map(v=>({value:v}));},
        afterFit:s=>{s.height=59;s.paddingLeft=0;s.paddingRight=0;},
        grid:{color:'#e6e6e6',lineWidth:1,drawTicks:false},
        border:{color:'#000',width:2},
        ticks:{padding:7,maxRotation:0,color:'#000',font:{family:font,size:16},callback:v=>String(v)},
        title:{display:true,text:xTitle,color:'#000',font:{family:font,size:22},padding:{top:4,bottom:3}}},
      y:{type:'linear',min:-42.75,max:91.25,
        afterBuildTicks:s=>{s.ticks=yTicks.map(v=>({value:v}));},
        afterFit:s=>{s.width=71;s.paddingTop=0;s.paddingBottom=0;},
        grid:{color:'#e6e6e6',lineWidth:1,drawTicks:false},
        border:{color:'#000',width:2},
        ticks:{padding:8,labelOffset:1.5,color:'#000',font:{family:font,size:16},callback:v=>String(v)},
        title:{display:true,text:yTitle,color:'#000',font:{family:font,size:22},padding:{top:5,bottom:2}}}
    }
  },
  plugins:[tickMarks]
});
</script></body></html>
